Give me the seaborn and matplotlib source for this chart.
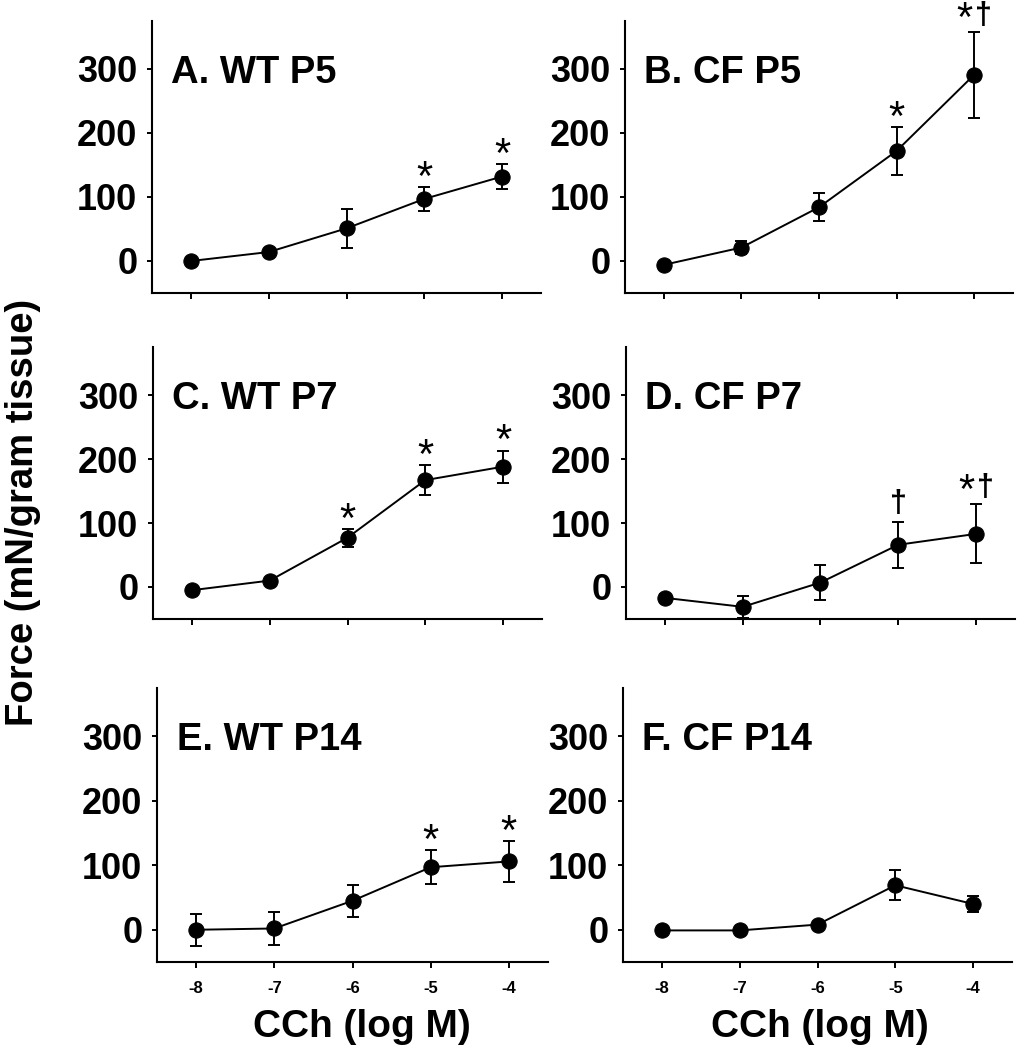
"""
Carbachol dose-response panels (WT vs CF, P5/P7/P14)
"""

import matplotlib
matplotlib.use("Agg")
import matplotlib.pyplot as plt
import seaborn as sns
import pandas as pd

# concentrations, log M
cch = [-8, -7, -6, -5, -4]
x_ticks = [-8, -7, -6, -5, -4]
y_ticks = [0, 100, 200, 300]

titles = ["A. WT P5", "B. CF P5", "C. WT P7", "D. CF P7", "E. WT P14", "F. CF P14"]

# mean force (mN/gram tissue)
wt_p5 = [0, 14, 51, 97, 132]
cf_p5 = [-6, 21, 84, 172, 291]
wt_p7 = [-5, 10, 77, 167, 188]
cf_p7 = [-17, -31, 7, 66, 83]
wt_p14 = [0, 2, 45, 97, 106]
cf_p14 = [-1, -1, 8, 69, 40]

# error bars (SEM)
wt_p5_err = [3, 3, 30, 19, 20]
cf_p5_err = [3, 10, 22, 37, 67]
wt_p7_err = [3, 3, 14, 24, 25]
cf_p7_err = [6, 17, 27, 36, 46]
wt_p14_err = [25, 25, 25, 26, 32]
cf_p14_err = [2, 2, 4, 23, 12]

# significance marks per point
wt_p5_sig = ["", "", "", "*", "*"]
cf_p5_sig = ["", "", "", "*", "*†"]
wt_p7_sig = ["", "", "*", "*", "*"]
cf_p7_sig = ["", "", "", "†", "*†"]
wt_p14_sig = ["", "", "", "*", "*"]
cf_p14_sig = ["", "", "", "", ""]

means = [wt_p5, cf_p5, wt_p7, cf_p7, wt_p14, cf_p14]
errs = [wt_p5_err, cf_p5_err, wt_p7_err, cf_p7_err, wt_p14_err, cf_p14_err]
sigs = [wt_p5_sig, cf_p5_sig, wt_p7_sig, cf_p7_sig, wt_p14_sig, cf_p14_sig]

sns.set_theme(style="ticks")
plt.rcParams["font.family"] = ["Liberation Sans", "DejaVu Sans"]
plt.rcParams["font.weight"] = "bold"
plt.rcParams["axes.unicode_minus"] = False
for key in ["text.color", "axes.labelcolor", "xtick.color", "ytick.color"]:
    plt.rcParams[key] = "black"

W, H = 1017, 1050
fig = plt.figure(figsize=(W / 100, H / 100), dpi=100)

# axes boxes in pixels: left, bottom, right, top
boxes = [
    (152, 293, 541, 21), (625, 293, 1013, 21),
    (153, 619, 542, 347), (626, 619, 1015, 347),
    (157, 962, 548, 688), (623, 962, 1012, 688),
]


def mark(ax, sym, x, y, dx, dy):
    if sym == "*":
        size, off, wt = 30, dy - 2, "normal"
    else:
        size, off, wt = 22, dy + 7, "bold"
    ax.annotate(sym, (x, y), xytext=(dx, off), textcoords="offset points",
                ha="center", va="baseline", fontsize=size,
                fontweight=wt, annotation_clip=False)


for i, (l, b, r, t) in enumerate(boxes):
    ax = fig.add_axes([l / W, 1 - b / H, (r - l) / W, (b - t) / H])
    df = pd.DataFrame({"cch": cch, "force": means[i], "err": errs[i], "sig": sigs[i]})

    ax.errorbar(df["cch"], df["force"], yerr=df["err"], fmt="none",
                ecolor="black", elinewidth=1.4, capsize=4, capthick=1.4, zorder=2)
    sns.lineplot(data=df, x="cch", y="force", ax=ax, color="black",
                 linewidth=1.4, marker="o", markersize=11,
                 markeredgecolor="black", markerfacecolor="black", zorder=3)

    for _, row in df.iterrows():
        sig = row["sig"]
        top = row["force"] + row["err"]
        if len(sig) == 2:
            mark(ax, "*", row["cch"], top, -7, 3)
            mark(ax, "†", row["cch"], top, 7, -1)
        elif sig:
            mark(ax, sig, row["cch"], top, 0, 0)

    ax.text(0.05, 0.81, titles[i], transform=ax.transAxes, fontsize=27.5,
            fontweight="bold", ha="left", va="center")

    ax.set_xlim(-8.5, -3.5)
    ax.set_ylim(-50, 375)
    ax.set_xticks(x_ticks)
    ax.set_yticks(y_ticks)
    ax.set_xlabel("")
    ax.set_ylabel("")
    sns.despine(ax=ax)
    for s in ["left", "bottom"]:
        ax.spines[s].set_linewidth(1.5)
        ax.spines[s].set_color("black")
    ax.tick_params(axis="y", length=3.5, width=1.4, pad=7, labelsize=26)
    ax.tick_params(axis="x", length=4, width=1.4, pad=10, labelsize=12)
    for lab in ax.get_yticklabels() + ax.get_xticklabels():
        lab.set_fontweight("bold")
    if i < 4:
        ax.set_xticklabels([])

fig.text(362 / W, 1 - 1027 / H, "CCh (log M)", fontsize=28, fontweight="bold",
         ha="center", va="center")
fig.text(820 / W, 1 - 1027 / H, "CCh (log M)", fontsize=28, fontweight="bold",
         ha="center", va="center")
fig.text(23 / W, 1 - 512 / H, "Force (mN/gram tissue)", fontsize=27.5,
         fontweight="bold", rotation=90, ha="center", va="center")

fig.savefig("out.png", dpi=100)
